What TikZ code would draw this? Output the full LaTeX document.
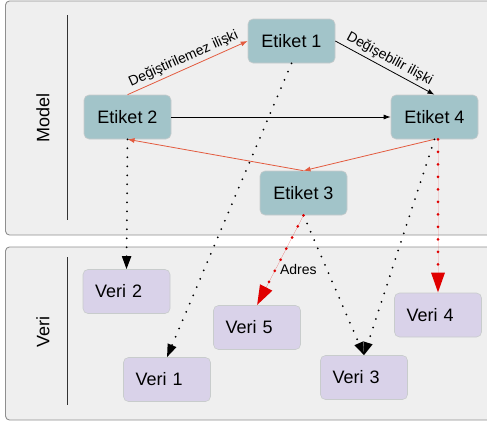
\documentclass[tikz,border=0pt]{standalone}
\usepackage{fontspec}
\setmainfont{Liberation Sans}
\usetikzlibrary{positioning, arrows.meta, calc}
\definecolor{mdEtiket}{HTML}{A2C4C9}
\definecolor{mdVeri}{HTML}{D9D2E9}
\definecolor{mdPanel}{HTML}{EFEFEF}
\definecolor{mdBorder}{HTML}{8F8F8F}
\definecolor{mdEdge}{HTML}{C8CCCC}
\definecolor{mdRed}{HTML}{E35B3F}
\definecolor{mdAddr}{HTML}{E00000}
\tikzset{
    mdBoxBase/.style={
        rectangle,
        draw=mdEdge,
        line width=0.6pt,
        rounded corners=5pt,
        minimum height=44pt,
        minimum width=87pt,
        font=\fontsize{18}{20}\selectfont,
        inner sep=0pt
    },
    % Node variants
    etiket/.style={mdBoxBase, fill=mdEtiket, align=center},
    veri/.style={mdBoxBase, fill=mdVeri, inner xsep=12pt, text width=63pt, align=left},
    panel/.style={draw=mdBorder, fill=mdPanel, rounded corners=4pt, line width=0.9pt},
    side/.style={rotate=90, font=\fontsize{18}{20}\selectfont},
    % Arrows
    mdArrowBase/.style={-{Latex[length=7pt, width=5pt]}, line width=0.8pt},
    mdLabel/.style={font=\fontsize{14}{16}\selectfont, inner sep=3pt}
}

\begin{document}
\begin{tikzpicture}[
    x=1pt, y=-1pt,
    solid link/.style={mdArrowBase, draw=black},
    fixed link/.style={mdArrowBase, draw=mdRed},
    dots/.style={-{Triangle[length=13pt, width=9pt]}, line width=2pt, line cap=round,
        dash pattern=on 0pt off 9pt, draw=black},
    addr/.style={-{Triangle[length=20pt, width=13pt]}, line width=3pt, line cap=round,
        dash pattern=on 0pt off 12.5pt, draw=mdAddr, fill=mdAddr}
]
\useasboundingbox (0,0) rectangle (487,421);

% panels
\draw[panel] (5.5,1) rectangle (495,235);
\draw[panel] (5.5,247) rectangle (495,420);
\draw[line width=1pt, black!80] (67,15) -- (67,220);
\draw[line width=1pt, black!80] (67,257) -- (67,405);
\node[side] (model) at (43,118) {Model};
\node[side] (veri) at (43,332) {Veri};

% model nodes
\node[etiket] (e1) at (291.5,41) {Etiket 1};
\node[etiket] (e2) at (127.5,117) {Etiket 2};
\node[etiket] (e4) at (434.5,117) {Etiket 4};
\node[etiket] (e3) at (303.5,193) {Etiket 3};

% data nodes
\node[veri] (v2) at (126.5,291.5) {Veri 2};
\node[veri] (v5) at (257,327.5) {Veri 5};
\node[veri] (v4) at (438,315) {Veri 4};
\node[veri] (v1) at (167,379.5) {Veri 1};
\node[veri] (v3) at (364,377.5) {Veri 3};

% relations
\draw[fixed link] (e2.north) -- node[above, sloped, mdLabel] {Değiştirilemez ilişki} (e1.west);
\draw[solid link] (e1.east) -- node[above, sloped, mdLabel] {Değişebilir ilişki} (e4.north);
\draw[solid link] (e2.east) -- (e4.west);
\draw[fixed link] (e3.north) -- (e2.south);
\draw[fixed link] (e4.south) -- (e3.north);

% model to data
\draw[dots] (e2.south) -- (v2.north);
\draw[dots] (e1.south) -- (v1.north);
\draw[dots] (e3.south) -- (v3.north);
\draw[dots] (e4.south) -- (v3.north);
\draw[addr] (e3.south) -- node[pos=0.6, right, mdLabel, text=black] {Adres} (v5.north);
\draw[addr] (v4.north |- e4.south) -- (v4.north);
\end{tikzpicture}
\end{document}
